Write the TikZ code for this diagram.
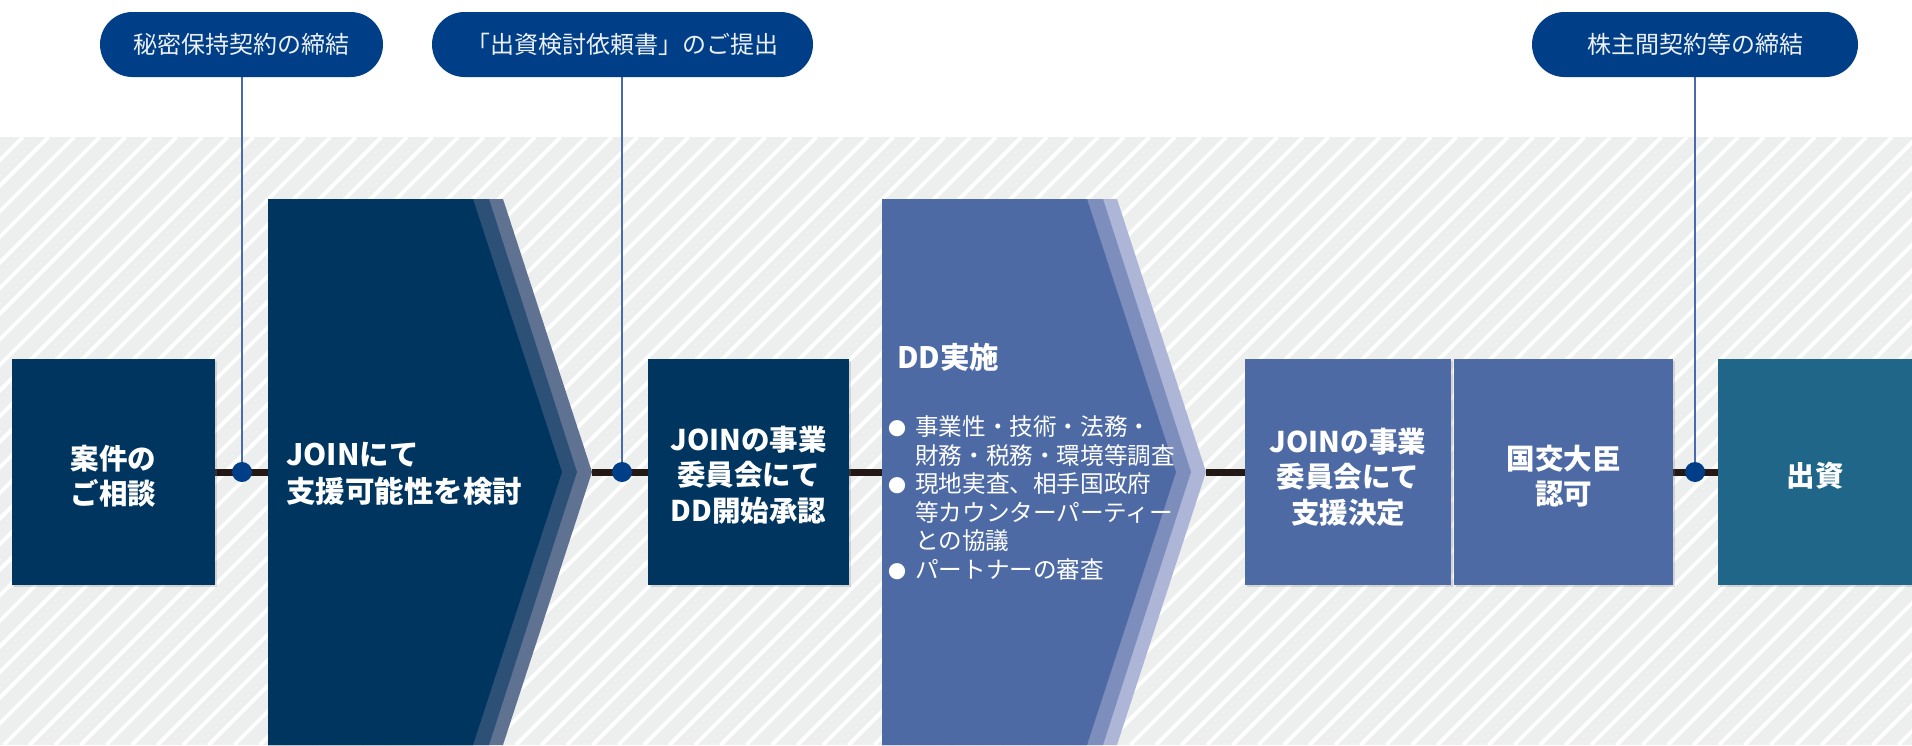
\documentclass[tikz,border=0pt]{standalone}
\usepackage{fontspec}
\setmainfont{Noto Sans CJK JP}
\usetikzlibrary{shadows}
\definecolor{navy}{HTML}{003560}
\definecolor{navyB}{HTML}{2D5077}
\definecolor{navyC}{HTML}{5F7292}
\definecolor{midblue}{HTML}{4D6AA5}
\definecolor{midB}{HTML}{7D8DBC}
\definecolor{midC}{HTML}{AEB6D8}
\definecolor{teal}{HTML}{1F6689}
\definecolor{pillblue}{HTML}{003F88}
\definecolor{vblue}{HTML}{4A6AAE}
\definecolor{tlcol}{HTML}{231815}
\definecolor{bandgray}{HTML}{EDEFEF}
\pgfdeclarelayer{stripes}
\pgfdeclarelayer{tl}
\pgfsetlayers{stripes,tl,main}
\newcommand{\dotbul}{\makebox[27pt][l]{{\fontsize{18}{18}\selectfont ●}}}
\newcommand{\dotind}{\hspace*{27pt}}
\begin{document}
\begin{tikzpicture}[x=1pt,y=-1pt,
  boxn/.style={rectangle, inner sep=0pt, minimum height=226pt,
    drop shadow={shadow xshift=1.5pt, shadow yshift=-1.5pt, opacity=0.25}},
  boxtxt/.style={inner sep=0pt, text=white, align=center, yshift=-4pt,
    font=\bfseries\fontsize{28.5}{35.5}\selectfont},
  btxt/.style={inner sep=0pt, text=white, font=\bfseries\fontsize{29.5}{37}\selectfont},
  rtxt/.style={inner sep=0pt, text=white, font=\fontsize{23.6}{28.5}\selectfont},
  pill/.style={rectangle, rounded corners=32.5pt, fill=pillblue, minimum height=65pt,
    inner sep=0pt, text=white!92!pillblue, font=\fontsize{24}{28}\selectfont},
  dotn/.style={circle, fill=pillblue, minimum size=20pt, inner sep=0pt},
  vline/.style={draw=vblue, line width=1.8pt},
  tline/.style={draw=tlcol, line width=7pt}
]
\useasboundingbox (0,0) rectangle (1912,745);
\begin{pgfonlayer}{stripes}
  \fill[white] (0,0) rectangle (1912,745);
  \fill[bandgray] (0,137) rectangle (1912,745);
  \begin{scope}
    \clip (0,137) rectangle (1912,745);
    \foreach \i in {0,...,101} {
      \draw[white, line width=3.8pt] ({-585+\i*25.6},745) -- ({23+\i*25.6},137);
    }
  \end{scope}
\end{pgfonlayer}

% pills
\node[pill, minimum width=283pt] (p1) at (241.5,44.5) {秘密保持契約の締結};
\node[pill, minimum width=381pt] (p2) at (622.5,44.5) {「出資検討依頼書」のご提出};
\node[pill, minimum width=326pt] (p3) at (1695,44.5) {株主間契約等の締結};

% chevron 1
\fill[navyC] (268,199) -- (503,199) -- (592,472) -- (503,745) -- (268,745) -- cycle;
\fill[navyB] (268,199) -- (489,199) -- (577,472) -- (489,745) -- (268,745) -- cycle;
\fill[navy]  (268,199) -- (473,199) -- (562,472) -- (473,745) -- (268,745) -- cycle;
\coordinate (c1w) at (268,472);
\coordinate (c1e) at (592,472);

% chevron 2
\fill[midC] (882,199) -- (1117,199) -- (1206,472) -- (1117,745) -- (882,745) -- cycle;
\fill[midB] (882,199) -- (1103,199) -- (1191,472) -- (1103,745) -- (882,745) -- cycle;
\fill[midblue] (882,199) -- (1087,199) -- (1176,472) -- (1087,745) -- (882,745) -- cycle;
\coordinate (c2w) at (882,472);
\coordinate (c2e) at (1206,472);

% boxes
\node[boxn, fill=navy, minimum width=203pt] (b1) at (113.5,472) {};
\node[boxtxt] (b1t) at (b1) {案件の\\ご相談};
\node[boxn, fill=navy, minimum width=201pt] (b3) at (748.5,472) {};
\node[boxtxt, yshift=1pt] (b3t) at (b3) {JOINの事業\\委員会にて\\DD開始承認};
\node[boxn, fill=midblue, minimum width=206pt] (b5) at (1348,472) {};
\node[boxtxt, yshift=-1pt] (b5t) at (b5) {JOINの事業\\委員会にて\\支援決定};
\node[boxn, fill=midblue, minimum width=219pt] (b6) at (1563.5,472) {};
\node[boxtxt] (b6t) at (b6) {国交大臣\\認可};
\node[boxn, fill=teal, minimum width=194pt] (b7) at (1815,472) {};
\node[boxtxt] (b7t) at (b7) {出資};

% chevron texts
\node[btxt, anchor=west, align=left] (t2) at (286,473.5) {JOINにて\\支援可能性を検討};
\node[btxt, anchor=west] (t4) at (897,357) {DD実施};
\node[rtxt, anchor=west, align=left] (t4b) at (888,498) {\dotbul 事業性・技術・法務・\\\dotind 財務・税務・環境等調査\\\dotbul 現地実査、相手国政府\\\dotind 等カウンターパーティー\\\dotind との協議\\\dotbul パートナーの審査};

% dots
\node[dotn] (d1) at (242,472) {};
\node[dotn] (d2) at (622,472) {};
\node[dotn] (d3) at (1695,472) {};

\begin{pgfonlayer}{tl}
  \draw[tline] (b1.east) -- (c1w);
  \draw[tline] (c1e) -- (b3.west);
  \draw[tline] (b3.east) -- (c2w);
  \draw[tline] (c2e) -- (b5.west);
  \draw[tline] (b6.east) -- (b7.west);
  \draw[vline] (p1.south -| d1) -- (d1);
  \draw[vline] (p2.south -| d2) -- (d2);
  \draw[vline] (p3.south -| d3) -- (d3);
\end{pgfonlayer}
\end{tikzpicture}
\end{document}
